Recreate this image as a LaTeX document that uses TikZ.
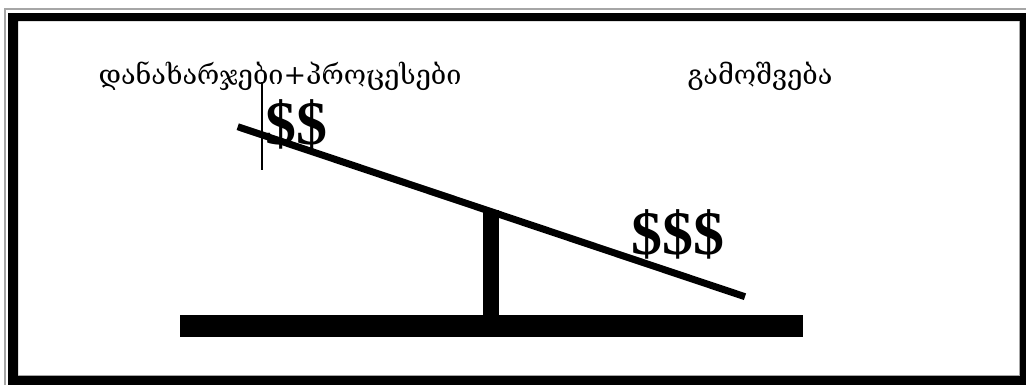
\documentclass[tikz,border=0pt]{standalone}
\usepackage{fontspec}
\setmainfont{Liberation Serif}
\newfontfamily\geofont{DejaVu Serif}
\newfontfamily\dollarfont{Liberation Serif}
\begin{document}
\begin{tikzpicture}[x=1pt,y=-1pt,
  geotext/.style={inner sep=0pt,anchor=center,font=\geofont\fontsize{27}{31}\selectfont},
  money/.style={inner sep=0pt,anchor=center,font=\dollarfont\bfseries\fontsize{62}{70}\selectfont},
  beam/.style={line width=7pt,line cap=butt},
  solidpart/.style={fill=black,draw=none}]
\useasboundingbox (0,0) rectangle (1026,384);
\fill[white] (0,0) rectangle (1026,384);
% frame
\draw[gray!70,line width=1.5pt] (5,9) rectangle (1040,400);
\fill[black,even odd rule] (8,13) rectangle (1040,400) (18,21) rectangle (1020,375);
\draw[gray!70,line width=1.2pt] (1019.5,21) -- (1019.5,375.5) -- (18,375.5);
% seesaw
\coordinate (bl) at (237.7,126.7);
\coordinate (br) at (745,296.7);
\draw[beam] (bl) -- (br);
\fill[solidpart] (483,210) rectangle (499,316);
\fill[solidpart] (180,315) rectangle (803,337);
% cursor line
\coordinate (c1) at (262,82);
\coordinate (c2) at (262,170);
\draw[line width=1.3pt] (c1) -- (c2);
% texts
\node[geotext] (t1) at (280,76) {დანახარჯები+პროცესები};
\node[geotext] (t2) at (760,76) {გამოშვება};
\node[money] (m1) at (296,124) {\$\$};
\node[money] (m2) at (678,234) {\$\$\$};
\end{tikzpicture}
\end{document}
